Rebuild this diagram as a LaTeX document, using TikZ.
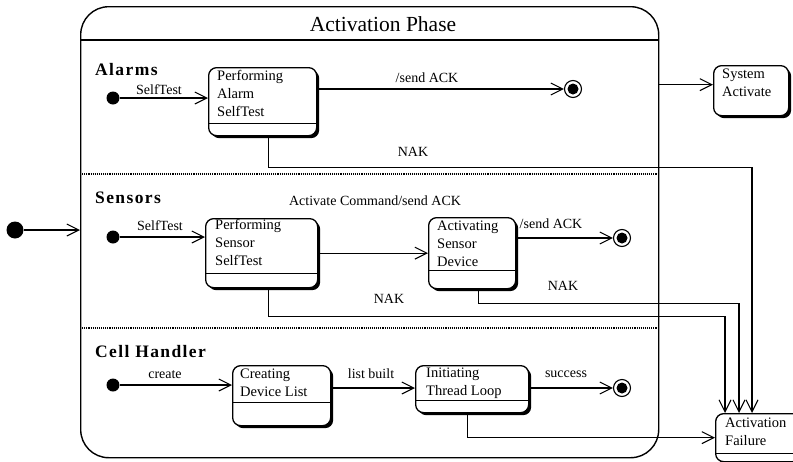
\documentclass[tikz,border=0pt]{standalone}
\usepackage{fontspec}
\setmainfont{Liberation Serif}
\newfontfamily\regionfont[LetterSpace=8]{Liberation Serif}
\usetikzlibrary{arrows.meta,shadows,calc}

\tikzset{
  conn/.style={line width=1.05pt, -{Straight Barb[length=12pt,width=12pt,line width=1.05pt]}},
  wire/.style={line width=1pt},
  stateframe/.style={draw, line width=1.3pt, rounded corners=8pt, fill=white,
    inner sep=0pt, anchor=north west,
    drop shadow={shadow xshift=2.5pt, shadow yshift=-2.5pt, fill=black, opacity=1}},
  % multi-line state text: the base anchor sits on the last line
  statetext/.style={anchor=base west, align=left, inner sep=0pt,
    font=\fontsize{14.5}{18}\selectfont},
  lbl/.style={anchor=base, inner sep=0pt, font=\fontsize{14}{16}\selectfont},
  region/.style={anchor=base west, inner sep=0pt,
    font=\regionfont\bfseries\fontsize{17.5}{20}\selectfont},
  initdot/.style={circle, fill=black, inner sep=0pt, minimum size=13pt},
  finalstate/.style={circle, draw, line width=1.1pt, inner sep=0pt, minimum size=17pt,
    fill=white, path picture={\fill[black] (path picture bounding box.center) circle (5.5pt);}},
  separator/.style={densely dotted, line width=1.1pt},
}

\begin{document}
\begin{tikzpicture}[x=1pt, y=-1pt]
\useasboundingbox (0,0) rectangle (793,461);
\clip (0,0) rectangle (793,461);

% composite state
\node[draw, line width=1.4pt, rounded corners=28pt, minimum width=578pt,
      minimum height=451pt, anchor=north west, inner sep=0pt] (phase) at (80,6) {};
\node[anchor=base, inner sep=0pt, font=\fontsize{21.5}{24}\selectfont] (title) at (383,31) {Activation Phase};
\draw[line width=1.3pt] (phase.west |- 0,40) -- (phase.east |- 0,40);
\draw[separator] (phase.west |- 0,174) -- (phase.east |- 0,174);
\draw[separator] (phase.west |- 0,328) -- (phase.east |- 0,328);

% outside states
\node[initdot, minimum size=17pt] (init0) at (15,230) {};
\node[stateframe, minimum width=75pt, minimum height=50pt] (sys) at (713,65) {};
\node[statetext] (sysTxt) at ($(sys.north west)+(9,31)$) {System\\Activate};
\node[stateframe, minimum width=85pt, minimum height=48pt] (fail) at (715,413) {};
\node[statetext] (failTxt) at ($(fail.north west)+(10,32)$) {Activation\\Failure};
\draw[wire] (fail.west |- 0,453) -- (fail.east |- 0,453);

% Alarms region
\node[region] (alarms) at (95,75) {Alarms};
\node[initdot] (a0) at (113,98) {};
\node[stateframe, minimum width=108pt, minimum height=68pt] (aBox) at (208,67) {};
\node[statetext] (aTxt) at ($(aBox.north west)+(9,49)$) {Performing\\Alarm\\SelfTest};
\draw[wire] (aBox.west |- 0,123) -- (aBox.east |- 0,123);
\node[finalstate] (aFin) at (573,89) {};
\node[lbl] (aL1) at (159,94) {SelfTest};
\node[lbl] (aL2) at (427,82) {/send ACK};
\node[lbl] (aL3) at (413,156) {NAK};

% Sensors region
\node[region] (sensors) at (95,203) {Sensors};
\node[initdot] (s0) at (113,237) {};
\node[stateframe, minimum width=112pt, minimum height=69pt] (sBox1) at (205,218) {};
\node[statetext] (sTxt1) at ($(sBox1.north west)+(10,47)$) {Performing\\Sensor\\SelfTest};
\draw[wire] (sBox1.west |- 0,273) -- (sBox1.east |- 0,273);
\node[stateframe, minimum width=87pt, minimum height=71pt] (sBox2) at (428,217) {};
\node[statetext] (sTxt2) at ($(sBox2.north west)+(9,49)$) {Activating\\Sensor\\Device};
\draw[wire] (sBox2.west |- 0,270) -- (sBox2.east |- 0,270);
\node[finalstate] (sFin) at (622,238) {};
\node[lbl] (sL1) at (160,230) {SelfTest};
\node[lbl] (sL2) at (375,205) {Activate Command/send ACK};
\node[lbl] (sL3) at (551,228) {/send ACK};
\node[lbl] (sL4) at (389,303) {NAK};
\node[lbl] (sL5) at (563,290) {NAK};

% Cell Handler region
\node[region] (cells) at (95,357) {Cell Handler};
\node[initdot] (c0) at (113,385) {};
\node[stateframe, minimum width=98pt, minimum height=60pt] (cBox1) at (232,365) {};
\node[statetext] (cTxt1) at ($(cBox1.north west)+(8,31)$) {Creating\\Device List};
\draw[wire] (cBox1.west |- 0,402) -- (cBox1.east |- 0,402);
\node[stateframe, minimum width=113pt, minimum height=47pt] (cBox2) at (415,365) {};
\node[statetext] (cTxt2) at ($(cBox2.north west)+(11,30)$) {Initiating\\Thread Loop};
\draw[wire] (cBox2.west |- 0,400) -- (cBox2.east |- 0,400);
\node[finalstate] (cFin) at (622,388) {};
\node[lbl] (cL1) at (165,378) {create};
\node[lbl] (cL2) at (371,378) {list built};
\node[lbl] (cL3) at (566,377) {success};

% transitions
\coordinate (sysIn) at ([yshift=6pt]sys.west);
\draw[conn] (init0) -- (init0 -| phase.west);
\draw[conn] (sysIn -| phase.east) -- (sysIn);

\draw[conn] (a0) -- (a0 -| aBox.west);
\draw[conn] (aBox.east |- aFin) -- (aFin);
\draw[conn] ([xshift=6pt]aBox.south) -- ++(0,31) -| ([xshift=37pt]fail.north west);

\draw[conn] (s0) -- (s0 -| sBox1.west);
\draw[conn] (sBox1.east) -- (sBox1.east -| sBox2.west);
\draw[conn] (sBox2.east |- sFin) -- (sFin);
\draw[conn] ([xshift=7pt]sBox1.south) -- ++(0,28) -| ([xshift=10pt]fail.north west);
\draw[conn] ([xshift=6.5pt]sBox2.south) -- ++(0,14) -| ([xshift=24pt]fail.north west);

\draw[conn] (c0) -- (c0 -| cBox1.west);
\draw[conn] (cBox1.east |- cFin) -- (cFin -| cBox2.west);
\draw[conn] (cBox2.east |- cFin) -- (cFin);
\draw[conn] ([xshift=-4.5pt]cBox2.south) |- (fail.west);
\end{tikzpicture}
\end{document}
